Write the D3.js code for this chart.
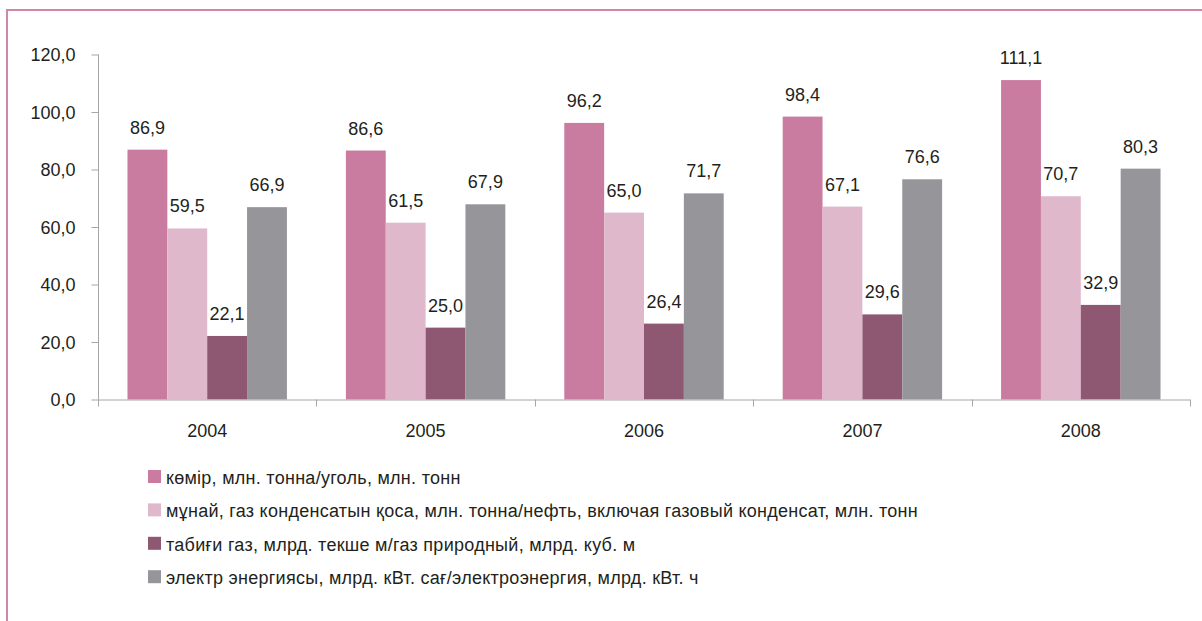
<!DOCTYPE html>
<html><head><meta charset="utf-8">
<script src="https://cdn.jsdelivr.net/npm/d3@7"></script>
<style>body{margin:0;background:#fff}</style>
</head><body><svg id="c" width="1202" height="621"></svg>
<script>
const years = ["2004","2005","2006","2007","2008"];
const seriesNames = [
  "көмір, млн. тонна/уголь, млн. тонн",
  "мұнай, газ конденсатын қоса, млн. тонна/нефть, включая газовый конденсат, млн. тонн",
  "табиғи газ, млрд. текше м/газ природный, млрд. куб. м",
  "электр энергиясы, млрд. кВт. сағ/электроэнергия, млрд. кВт. ч"
];
const coal = [86.9, 86.6, 96.2, 98.4, 111.1];
const oil = [59.5, 61.5, 65.0, 67.1, 70.7];
const gas = [22.1, 25.0, 26.4, 29.6, 32.9];
const electricity = [66.9, 67.9, 71.7, 76.6, 80.3];
const yTicks = [0, 20, 40, 60, 80, 100, 120];
const colors = ["#c97ca0", "#e0b8cb", "#8e5873", "#96959a"];

const FONT = "Liberation Sans, Arial, sans-serif";
const series = [coal, oil, gas, electricity];
const svg = d3.select("#c").attr("font-family", FONT);
const fmt = v => d3.format(".1f")(v).replace(".", ",");

// border
svg.append("rect").attr("x", 7).attr("y", 10).attr("width", 1250).attr("height", 700)
  .attr("fill", "none").attr("stroke", "#cf87a8").attr("stroke-width", 2);

const x0 = d3.scaleBand().domain(years).range([98, 1190]);
const y = d3.scaleLinear().domain([0, 120]).range([399.5, 54.5]);
const gw = x0.bandwidth() * 0.73;
const x1 = d3.scaleBand().domain(d3.range(4)).range([(x0.bandwidth() - gw) / 2, (x0.bandwidth() + gw) / 2]);

const axisColor = "#a6a6a6";
const textColor = "#231f20";
// y axis
const yAxis = d3.axisLeft(y).tickValues(yTicks).tickSize(7).tickFormat(fmt);
const gy = svg.append("g").attr("transform", "translate(98.5,0)").call(yAxis)
  .attr("font-family", FONT).attr("font-size", 18);
gy.select(".domain").attr("stroke", axisColor).attr("d", "M0," + y(120) + "V" + y(0));
gy.selectAll(".tick line").attr("stroke", axisColor);
gy.selectAll(".tick text").attr("fill", textColor).attr("x", -23).attr("dy", "0.36em");

// bars
const groups = svg.append("g").selectAll("g").data(years).join("g")
  .attr("transform", d => `translate(${x0(d)},0)`);
groups.each(function (yr, i) {
  const g = d3.select(this);
  series.forEach((s, k) => {
    g.append("rect").attr("x", x1(k)).attr("width", x1.bandwidth())
      .attr("y", y(s[i])).attr("height", y(0) - y(s[i])).attr("fill", colors[k]);
    g.append("text").attr("x", x1(k) + x1.bandwidth() / 2).attr("y", y(s[i]) - 16)
      .attr("text-anchor", "middle").attr("font-size", 18).attr("fill", textColor).text(fmt(s[i]));
  });
});

// x axis
const xAxisLine = svg.append("g");
xAxisLine.append("line").attr("x1", 98).attr("x2", 1190).attr("y1", y(0) + 0.5).attr("y2", y(0) + 0.5)
  .attr("stroke", axisColor);
const bounds = years.map(d => x0(d)).concat([x0(years[years.length - 1]) + x0.bandwidth()]);
xAxisLine.selectAll(".t").data(bounds).join("line").attr("class", "t")
  .attr("x1", d => Math.round(d) + 0.5).attr("x2", d => Math.round(d) + 0.5)
  .attr("y1", y(0)).attr("y2", y(0) + 7).attr("stroke", axisColor);
svg.append("g").selectAll("text").data(years).join("text")
  .attr("x", d => x0(d) + x0.bandwidth() / 2).attr("y", 437).attr("text-anchor", "middle")
  .attr("font-size", 18).attr("fill", textColor).text(d => d);

// legend
const leg = svg.append("g").selectAll("g").data(seriesNames).join("g")
  .attr("transform", (d, i) => `translate(148,${470 + i * 33.4})`);
leg.append("rect").attr("width", 13).attr("height", 13).attr("fill", (d, i) => colors[i]);
leg.append("text").attr("x", 18).attr("y", 14).attr("font-size", 18).attr("letter-spacing", 0.27)
  .attr("fill", textColor).text(d => d);
</script></body></html>
